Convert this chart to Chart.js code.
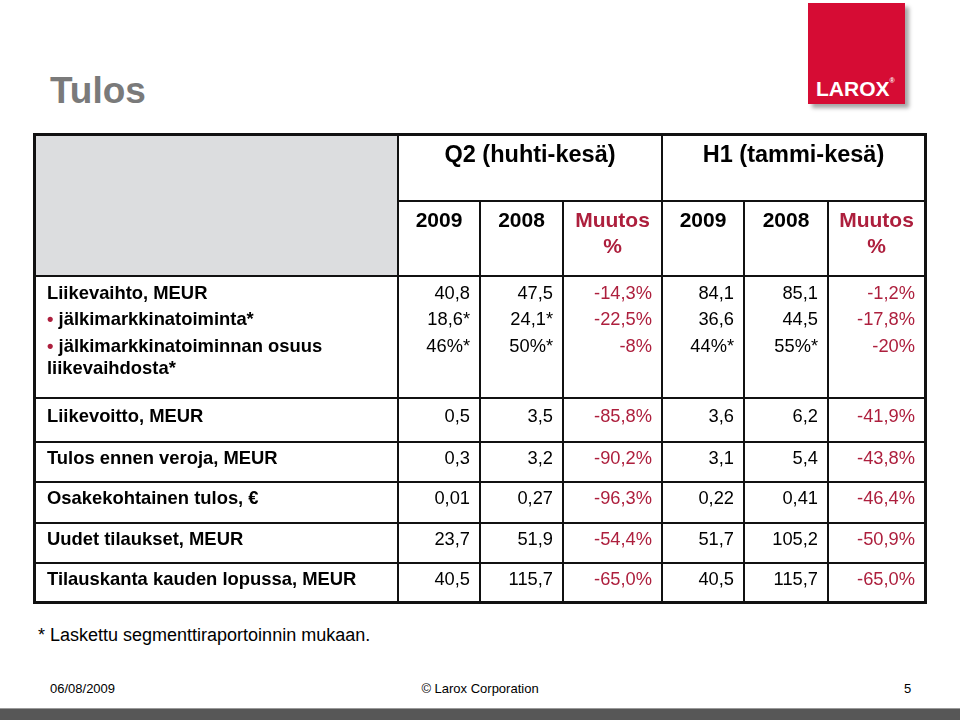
<!DOCTYPE html>
<html lang="fi">
<head>
<meta charset="utf-8">
<title>Tulos</title>
<script src="https://cdn.jsdelivr.net/npm/chart.js@4.4.1/dist/chart.umd.min.js"></script>
<style>
  html, body { margin: 0; padding: 0; background: #fff; }
  body { width: 960px; height: 720px; position: relative; overflow: hidden; font-family: "Liberation Sans", Arial, sans-serif; }
  .txt { position: absolute; line-height: 1; white-space: nowrap; }
  #title { left: 50px; top: 72px; font-size: 37px; font-weight: bold; color: #7a7a7a; }
  #logo { position: absolute; left: 808px; top: 3px; width: 97px; height: 101px; background: #d60c34; box-shadow: 4px 4px 4px rgba(0,0,0,0.35); }
  #logo span { position: absolute; left: 8px; top: 75px; font-size: 21px; font-weight: bold; color: #fff; line-height: 1; }
  #logo sup { font-size: 7px; vertical-align: top; position: relative; top: -1px; }
  #wrap { position: absolute; left: 33px; top: 133px; width: 895px; height: 472px; }
  #note { left: 38px; top: 626px; font-size: 18px; color: #000; }
  .foot { top: 682px; font-size: 13px; color: #000; }
  #date { left: 50px; }
  #copy { left: 0; width: 960px; text-align: center; }
  #page { left: 904px; }
  #bar { position: absolute; left: 0; top: 708px; width: 960px; height: 12px; background: #575757; border-top: 1px solid #9a9a9a; }
</style>
</head>
<body>
<div id="title" class="txt">Tulos</div>
<div id="logo"><span>LAROX<sup>®</sup></span></div>
<div id="wrap"><canvas id="tulosTable" width="895" height="472"></canvas></div>
<div id="note" class="txt">* Laskettu segmenttiraportoinnin mukaan.</div>
<div id="date" class="txt foot">06/08/2009</div>
<div id="copy" class="txt foot">© Larox Corporation</div>
<div id="page" class="txt foot">5</div>
<div id="bar"></div>

<script>
// Table content
const groupTitles = ['Q2 (huhti-kesä)', 'H1 (tammi-kesä)'];
const columnHeads = ['2009', '2008', 'Muutos', '2009', '2008', 'Muutos'];
const rowLabels = [
    'Liikevaihto, MEUR',
    '• jälkimarkkinatoiminta*',
    '• jälkimarkkinatoiminnan osuus|liikevaihdosta*',
    'Liikevoitto, MEUR',
    'Tulos ennen veroja, MEUR',
    'Osakekohtainen tulos, €',
    'Uudet tilaukset, MEUR',
    'Tilauskanta kauden lopussa, MEUR'
];
const q2Y2009 = ['40,8', '18,6*', '46%*', '0,5', '0,3', '0,01', '23,7', '40,5'];
const q2Y2008 = ['47,5', '24,1*', '50%*', '3,5', '3,2', '0,27', '51,9', '115,7'];
const q2Change = ['-14,3%', '-22,5%', '-8%', '-85,8%', '-90,2%', '-96,3%', '-54,4%', '-65,0%'];
const h1Y2009 = ['84,1', '36,6', '44%*', '3,6', '3,1', '0,22', '51,7', '40,5'];
const h1Y2008 = ['85,1', '44,5', '55%*', '6,2', '5,4', '0,41', '105,2', '115,7'];
const h1Change = ['-1,2%', '-17,8%', '-20%', '-41,9%', '-43,8%', '-46,4%', '-50,9%', '-65,0%'];

const valueColumns = [q2Y2009, q2Y2008, q2Change, h1Y2009, h1Y2008, h1Change];
const redColumns = [2, 5];

// Layout in table units (scale values)
const colEdges = [0, 363, 445, 528, 627, 709, 793, 890];
const rowEdges = [0, 66, 141, 263, 307, 347, 388, 428, 467];
const lineBase = [164, 190, 217, 287, 329, 369, 410, 450];

const RED = '#ad1f3d';
const FONT = '"Liberation Sans", Arial, sans-serif';

const tablePlugin = {
    id: 'tableCells',
    beforeDatasetsDraw(chart) {
        const { ctx, scales: { x, y } } = chart;
        const px = v => Math.round(x.getPixelForValue(v));
        const py = v => Math.round(y.getPixelForValue(v));
        ctx.save();

        // grey corner cell
        ctx.fillStyle = '#dcdddf';
        ctx.fillRect(px(0), py(0), px(colEdges[1]) - px(0), py(rowEdges[2]) - py(0));

        ctx.strokeStyle = '#111';
        ctx.lineWidth = 2;
        const line = (x0, y0, x1, y1) => {
            ctx.beginPath();
            ctx.moveTo(px(x0), py(y0));
            ctx.lineTo(px(x1), py(y1));
            ctx.stroke();
        };
        // horizontal rules
        line(colEdges[1], rowEdges[1], colEdges[7], rowEdges[1]);
        for (let r = 2; r < rowEdges.length - 1; r++) {
            line(colEdges[0], rowEdges[r], colEdges[7], rowEdges[r]);
        }
        // vertical rules
        line(colEdges[1], rowEdges[0], colEdges[1], rowEdges[8]);
        line(colEdges[4], rowEdges[0], colEdges[4], rowEdges[8]);
        [2, 3, 5, 6].forEach(c => line(colEdges[c], rowEdges[1], colEdges[c], rowEdges[8]));

        // outer border
        ctx.lineWidth = 3;
        ctx.strokeRect(px(0) - 0.5, py(0) - 0.5, px(colEdges[7]) - px(0) + 1, py(rowEdges[8]) - py(0) + 1);
        ctx.restore();
    },
    afterDatasetsDraw(chart) {
        const { ctx, scales: { x, y } } = chart;
        const px = v => x.getPixelForValue(v);
        const py = v => y.getPixelForValue(v);
        ctx.save();
        ctx.textBaseline = 'alphabetic';

        // group titles
        ctx.font = 'bold 23.5px ' + FONT;
        ctx.fillStyle = '#000';
        ctx.textAlign = 'center';
        groupTitles.forEach((t, g) => {
            const c0 = colEdges[1 + g * 3], c1 = colEdges[4 + g * 3];
            ctx.fillText(t, px((c0 + c1) / 2), py(27));
        });

        // column heads
        ctx.font = 'bold 21px ' + FONT;
        columnHeads.forEach((t, i) => {
            const cx = px((colEdges[i + 1] + colEdges[i + 2]) / 2);
            const red = redColumns.includes(i);
            ctx.fillStyle = red ? RED : '#000';
            ctx.fillText(t, cx, py(92));
            if (red) ctx.fillText('%', cx, py(118));
        });

        // row labels
        ctx.textAlign = 'left';
        ctx.font = 'bold 18.4px ' + FONT;
        rowLabels.forEach((label, r) => {
            let lx = px(12);
            let text = label;
            if (text.startsWith('• ')) {
                ctx.fillStyle = RED;
                ctx.fillText('•', lx, py(lineBase[r]));
                lx += ctx.measureText('• ').width;
                text = text.slice(2);
            }
            ctx.fillStyle = '#000';
            const parts = text.split('|');
            ctx.fillText(parts[0], lx, py(lineBase[r]));
            if (parts[1]) ctx.fillText(parts[1], px(12), py(lineBase[r] + 22));
        });

        // values
        ctx.textAlign = 'right';
        ctx.font = '18.3px ' + FONT;
        valueColumns.forEach((col, c) => {
            ctx.fillStyle = redColumns.includes(c) ? RED : '#000';
            col.forEach((v, r) => {
                ctx.fillText(v, px(colEdges[c + 2] - 10), py(lineBase[r]));
            });
        });
        ctx.restore();
    }
};

new Chart(document.getElementById('tulosTable'), {
    type: 'scatter',
    data: { datasets: [] },
    options: {
        responsive: false,
        animation: false,
        events: [],
        layout: { padding: { left: 2, top: 2, right: 3, bottom: 3 } },
        plugins: { legend: { display: false }, tooltip: { enabled: false } },
        scales: {
            x: { type: 'linear', min: 0, max: 890, display: false },
            y: { type: 'linear', min: 0, max: 467, reverse: true, display: false }
        }
    },
    plugins: [tablePlugin]
});
</script>
</body>
</html>
